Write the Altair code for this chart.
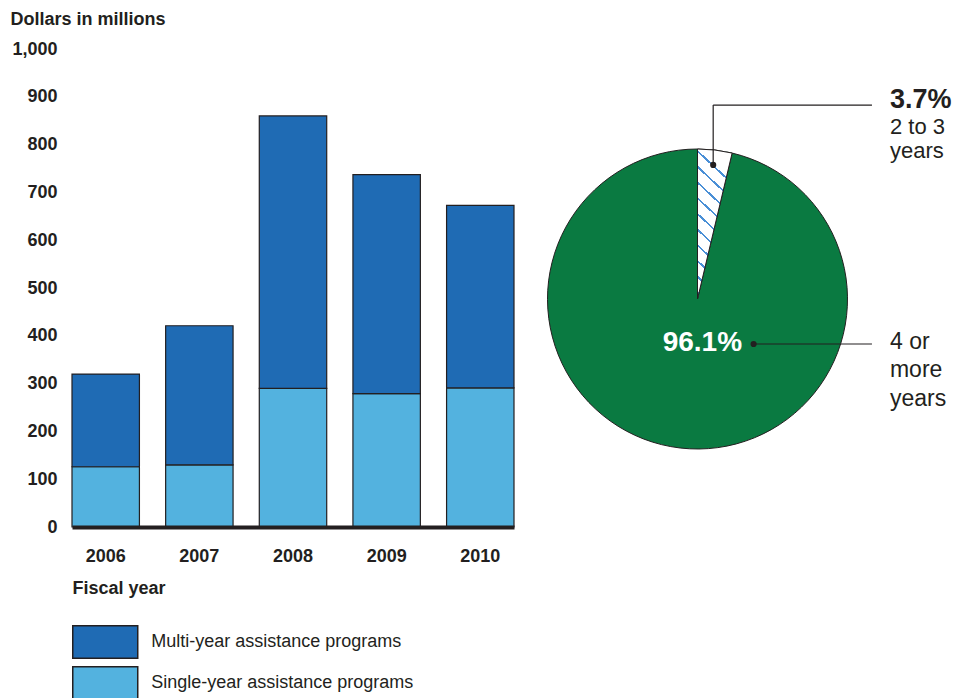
import math
import altair as alt
import pandas as pd

# ---------------- data ----------------
years = ["2006", "2007", "2008", "2009", "2010"]
single_year = [126, 130, 290, 279, 291]
multi_year = [194, 291, 570, 458, 382]
series_names = ["Multi-year assistance programs", "Single-year assistance programs"]
y_ticks = [0, 100, 200, 300, 400, 500, 600, 700, 800, 900, 1000]

pie_labels = ["2 to 3 years", "4 or more years"]
pie_shares = [3.7, 96.1]
pie_pct_text = ["3.7%", "96.1%"]
small_caption = ["2 to 3", "years"]
big_caption = ["4 or", "more", "years"]

# ---------------- styles ----------------
FONT = "Liberation Sans"
INK = "#231f20"
DARK = "#1f6bb4"
LIGHT = "#53b2df"
GREEN = "#0a7a41"
HATCH = "#4a8fd6"

rows = []
for i, yr in enumerate(years):
    rows.append({"year": yr, "series": series_names[1], "value": single_year[i], "ord": 0})
    rows.append({"year": yr, "series": series_names[0], "value": multi_year[i], "ord": 1})
bar_df = pd.DataFrame(rows)

bars = alt.Chart(bar_df).mark_bar(stroke=INK, strokeWidth=1.2).encode(
    x=alt.X(
        "year:N", sort=years,
        scale=alt.Scale(paddingInner=0.28, paddingOuter=0),
        axis=alt.Axis(
            title="Fiscal year", labelAngle=0, labelFont=FONT, labelFontSize=18,
            labelFontWeight="bold", labelColor=INK, labelPadding=20, ticks=False,
            tickSize=0, domainColor=INK, domainWidth=4, zindex=1,
            titleFont=FONT, titleFontSize=18, titleFontWeight="bold", titleColor=INK,
            titleAnchor="start", titleAlign="left", titleX=0, titleY=66,
            titleBaseline="alphabetic",
        ),
    ),
    y=alt.Y(
        "value:Q", stack="zero",
        scale=alt.Scale(domain=[0, 1000], nice=False),
        axis=alt.Axis(
            values=y_ticks, format=",d", title="Dollars in millions", titleAngle=0,
            titleX=-62, titleY=-25, titleAlign="left", titleBaseline="alphabetic",
            titleFont=FONT, titleFontSize=18, titleFontWeight="bold", titleColor=INK,
            grid=False, domain=False, ticks=False, tickSize=0, labelPadding=15,
            labelFont=FONT, labelFontSize=18, labelFontWeight="bold", labelColor=INK,
        ),
    ),
    color=alt.Color(
        "series:N",
        scale=alt.Scale(domain=series_names, range=[DARK, LIGHT]),
        legend=alt.Legend(
            title=None, orient="none", legendX=16.25, legendY=576,
            symbolType="M-2,-1H2V1H-2Z", symbolSize=1056, symbolStrokeColor=INK,
            symbolStrokeWidth=1.5, symbolOpacity=1, labelFont=FONT, labelFontSize=18,
            labelColor=INK, labelOffset=29, rowPadding=1, direction="vertical",
            labelLimit=0,
        ),
    ),
    order=alt.Order("ord:Q"),
).properties(width=442, height=478)

# ---------------- pie ----------------
total = sum(pie_shares)
pie_df = pd.DataFrame({
    "label": pie_labels, "share": pie_shares, "ord": [0, 1],
    "hatched": [True, False], "cx": [0, 0], "cy": [0, 0],
})

xs = alt.Scale(domain=[-1.05, 1.75], nice=False, zero=False)
ys = alt.Scale(domain=[-1.52, 1.6667], nice=False, zero=False)

# hatch pattern as hard-stop linear gradient
stops = [{"offset": 0, "color": "white"}]
for k in range(11):
    s = 0.05 + k * 0.1
    if s + 0.015 >= 1:
        break
    stops += [
        {"offset": s, "color": "white"},
        {"offset": s, "color": HATCH},
        {"offset": s + 0.015, "color": HATCH},
        {"offset": s + 0.015, "color": "white"},
    ]
stops.append({"offset": 1, "color": "white"})
hatch_fill = alt.LinearGradient(gradient="linear", stops=stops, x1=0.216, y1=0, x2=0, y2=1)

arc_base = alt.Chart(pie_df).encode(
    theta=alt.Theta("share:Q", stack=True),
    order=alt.Order("ord:Q"),
    x=alt.X("cx:Q", scale=xs, axis=None),
    y=alt.Y("cy:Q", scale=ys, axis=None),
)
green_arc = arc_base.mark_arc(radius=150, fill=GREEN, stroke=INK, strokeWidth=1)
hatch_arc = arc_base.mark_arc(radius=150, fill=hatch_fill, stroke=INK, strokeWidth=1).encode(
    opacity=alt.condition("datum.hatched", alt.value(1), alt.value(0))
)

mid = 2 * math.pi * (pie_shares[0] / 2) / total
d1x, d1y = 0.9 * math.sin(mid), 0.9 * math.cos(mid)
d2x, d2y = 0.374, -0.3
elbow_y = 1.293
line_end = 1.163
text_x = 1.283

lines_df = pd.DataFrame({
    "x": [d1x, d1x, d2x], "y": [d1y, elbow_y, d2y],
    "x2": [d1x, line_end, line_end], "y2": [elbow_y, elbow_y, d2y],
})
dots_df = pd.DataFrame({"x": [d1x, d2x], "y": [d1y, d2y]})

leaders = alt.Chart(lines_df).mark_rule(color=INK, strokeWidth=1.2).encode(
    x=alt.X("x:Q", scale=xs, axis=None), y=alt.Y("y:Q", scale=ys, axis=None),
    x2="x2:Q", y2="y2:Q",
)
dots = alt.Chart(dots_df).mark_circle(color=INK, opacity=1, size=38).encode(
    x=alt.X("x:Q", scale=xs, axis=None), y=alt.Y("y:Q", scale=ys, axis=None),
)

bold_df = pd.DataFrame({"t": [pie_pct_text[0]], "x": [text_x], "y": [1.275]})
bold_txt = alt.Chart(bold_df).mark_text(
    font=FONT, fontSize=27, fontWeight="bold", color=INK, align="left", baseline="alphabetic"
).encode(x=alt.X("x:Q", scale=xs, axis=None), y=alt.Y("y:Q", scale=ys, axis=None), text="t:N")

top_df = pd.DataFrame({"t": small_caption, "x": [text_x] * 2, "y": [1.10, 0.94]})
top_txt = alt.Chart(top_df).mark_text(
    font=FONT, fontSize=22, color=INK, align="left", baseline="alphabetic"
).encode(x=alt.X("x:Q", scale=xs, axis=None), y=alt.Y("y:Q", scale=ys, axis=None), text="t:N")

bot_df = pd.DataFrame({"t": big_caption, "x": [text_x] * 3, "y": [-0.333, -0.52, -0.715]})
bot_txt = alt.Chart(bot_df).mark_text(
    font=FONT, fontSize=23, color=INK, align="left", baseline="alphabetic"
).encode(x=alt.X("x:Q", scale=xs, axis=None), y=alt.Y("y:Q", scale=ys, axis=None), text="t:N")

white_df = pd.DataFrame({"t": [pie_pct_text[1]], "x": [0.297], "y": [-0.347]})
white_txt = alt.Chart(white_df).mark_text(
    font=FONT, fontSize=28, fontWeight="bold", color="white", align="right", baseline="alphabetic"
).encode(x=alt.X("x:Q", scale=xs, axis=None), y=alt.Y("y:Q", scale=ys, axis=None), text="t:N")

pie = alt.layer(green_arc, hatch_arc, leaders, dots, bold_txt, top_txt, bot_txt, white_txt).properties(
    width=420, height=478
)

chart = alt.hconcat(bars, pie, spacing=26, bounds="flush").resolve_legend(
    color="independent"
).properties(
    padding={"left": 2, "top": 2, "right": 2, "bottom": 2}
).configure_view(stroke=None)

chart.save("out.html", embed_options={"renderer": "svg", "actions": False})
